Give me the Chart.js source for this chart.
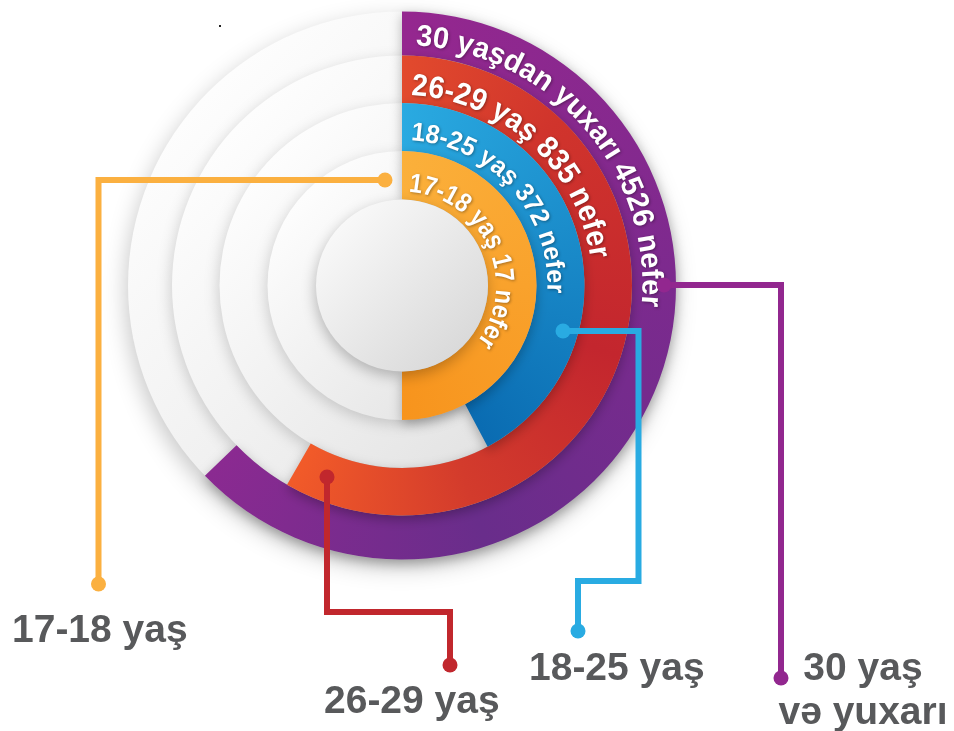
<!DOCTYPE html>
<html>
<head>
<meta charset="utf-8">
<script src="https://cdn.jsdelivr.net/npm/chart.js@4.4.1/dist/chart.umd.min.js"></script>
<style>
  html, body { margin: 0; padding: 0; background: #ffffff; }
  #wrap { position: relative; width: 954px; height: 731px; }
</style>
</head>
<body>
<div id="wrap"><canvas id="chart" width="954" height="731"></canvas></div>
<script>
// Age groups, outer ring first
const categories = ['30 yaş və yuxarı', '26-29 yaş', '18-25 yaş', '17-18 yaş'];
const ringPrefixes = ['30 yaşdan yuxarı', '26-29 yaş', '18-25 yaş', '17-18 yaş'];
const counts = [4526, 835, 372, 17];
const countUnit = 'nefer';
// Sweep of each coloured arc, degrees clockwise from 12 o'clock
const arcDegrees = [226, 210, 152, 180];
// Legend captions under the chart
const captionLines = [['30 yaş', 'və yuxarı'], ['26-29 yaş'], ['18-25 yaş'], ['17-18 yaş']];

// Styles
const ringColors = ['#92278f', '#c1272d', '#29abe2', '#fbb040'];
const ringStops = [
    [[0, '#95278f'], [0.25, '#7c2a8e'], [0.45, '#692d8b'], [0.63, '#8b2a91'], [1, '#8b2a91']],
    [[0, '#e24a2d'], [0.12, '#d0342c'], [0.3, '#c3262e'], [0.45, '#d33b2c'], [0.58, '#f15a29'], [1, '#f15a29']],
    [[0, '#2aaae1'], [0.42, '#0a6cb2'], [1, '#0a6cb2']],
    [[0, '#fbb03b'], [0.5, '#f7941d'], [1, '#f7941d']]
];
const ringWeights = [44, 47.5, 48, 48.5];
const textStyle = [
    { size: 30, base: 10.5, from: 3.2, to: 95 },
    { size: 31, base: 8, from: 2.7, to: 82 },
    { size: 26, base: 11, from: 3.4, to: 93 },
    { size: 27, base: 8, from: 4, to: 127 }
];
// leader line routes and caption anchors (page pixels)
const leaders = [
    { pts: [[664, 285], [781, 285], [781, 678]], caption: [863, 680], align: 'center', lineGap: 44 },
    { pts: [[327, 477], [327, 612], [450, 612], [450, 665]], caption: [324, 713], align: 'left' },
    { pts: [[563, 331], [638.5, 331], [638.5, 581], [578, 581], [578, 631]], caption: [529, 680], align: 'left' },
    { pts: [[385, 180], [98.5, 180], [98.5, 584]], caption: [12, 642], align: 'left' }
];
const FONT = '"Liberation Sans", Arial, sans-serif';

function center(chart) {
    const a = chart.chartArea;
    return { x: (a.left + a.right) / 2, y: (a.top + a.bottom) / 2 };
}

function diskGradient(ctx, x, y, r, light, dark) {
    const g = ctx.createLinearGradient(x - r * 0.7, y - r * 0.7, x + r * 0.7, y + r * 0.7);
    g.addColorStop(0, light);
    g.addColorStop(1, dark);
    return g;
}

function drawArcText(ctx, text, cx, cy, r, fromDeg, toDeg, size) {
    ctx.font = 'bold ' + size + 'px ' + FONT;
    const natural = ctx.measureText(text).width;
    const span = (toDeg - fromDeg) * Math.PI / 180 * r;
    const sx = span / natural;
    let angle = fromDeg * Math.PI / 180;
    ctx.textAlign = 'center';
    ctx.textBaseline = 'alphabetic';
    for (const ch of text) {
        const w = ctx.measureText(ch).width * sx;
        const mid = angle + (w / 2) / r;
        ctx.save();
        ctx.translate(cx, cy);
        ctx.rotate(mid);
        ctx.translate(0, -r);
        ctx.scale(sx, 1);
        ctx.fillText(ch, 0, 0);
        ctx.restore();
        angle += w / r;
    }
}

// Grey stepped disks behind the rings
const backdropPlugin = {
    id: 'backdrop',
    beforeDatasetsDraw(chart) {
        const ctx = chart.ctx;
        const c = center(chart);
        chart.data.datasets.forEach((ds, i) => {
            const meta = chart.getDatasetMeta(i);
            const r = meta.controller.outerRadius;
            ctx.save();
            ctx.shadowColor = i === 0 ? 'rgba(0,0,0,0.22)' : 'rgba(0,0,0,0.16)';
            ctx.shadowBlur = i === 0 ? 22 : 14;
            ctx.shadowOffsetX = -2;
            ctx.shadowOffsetY = i === 0 ? 8 : 4;
            ctx.beginPath();
            ctx.arc(c.x, c.y, r, 0, Math.PI * 2);
            ctx.fillStyle = diskGradient(ctx, c.x, c.y, r, '#fdfdfd', '#e3e3e3');
            ctx.fill();
            ctx.restore();
        });
    },
    beforeDatasetDraw(chart) {
        const ctx = chart.ctx;
        ctx.save();
        ctx.shadowColor = 'rgba(0,0,0,0.28)';
        ctx.shadowBlur = 12;
        ctx.shadowOffsetX = 0;
        ctx.shadowOffsetY = 4;
    },
    afterDatasetDraw(chart) {
        chart.ctx.restore();
    },
    afterDatasetsDraw(chart) {
        const ctx = chart.ctx;
        const c = center(chart);
        const n = chart.data.datasets.length;
        const inner = chart.getDatasetMeta(n - 1).controller.innerRadius;

        // centre disk
        ctx.save();
        ctx.shadowColor = 'rgba(0,0,0,0.25)';
        ctx.shadowBlur = 14;
        ctx.shadowOffsetX = -1;
        ctx.shadowOffsetY = 5;
        ctx.beginPath();
        ctx.arc(c.x, c.y, inner, 0, Math.PI * 2);
        ctx.fillStyle = diskGradient(ctx, c.x, c.y, inner, '#f8f8f8', '#dadada');
        ctx.fill();
        ctx.restore();

        // curved texts
        ctx.save();
        ctx.fillStyle = '#ffffff';
        ctx.shadowColor = 'rgba(0,0,0,0.35)';
        ctx.shadowBlur = 3;
        ctx.shadowOffsetX = 1;
        ctx.shadowOffsetY = 1;
        chart.data.datasets.forEach((ds, i) => {
            const meta = chart.getDatasetMeta(i);
            const t = textStyle[i];
            const label = ringPrefixes[i] + ' ' + counts[i] + ' ' + countUnit;
            drawArcText(ctx, label, c.x, c.y, meta.controller.innerRadius + t.base, t.from, t.to, t.size);
        });
        ctx.restore();

        // leader lines, dots and captions
        leaders.forEach((l, i) => {
            ctx.save();
            ctx.strokeStyle = ringColors[i];
            ctx.fillStyle = ringColors[i];
            ctx.lineWidth = 6;
            ctx.lineJoin = 'miter';
            ctx.beginPath();
            l.pts.forEach((p, k) => (k ? ctx.lineTo(p[0], p[1]) : ctx.moveTo(p[0], p[1])));
            ctx.stroke();
            [l.pts[0], l.pts[l.pts.length - 1]].forEach(p => {
                ctx.beginPath();
                ctx.arc(p[0], p[1], 7.5, 0, Math.PI * 2);
                ctx.fill();
            });
            ctx.fillStyle = '#58595b';
            ctx.font = 'bold 39px ' + FONT;
            ctx.textAlign = l.align;
            ctx.textBaseline = 'alphabetic';
            captionLines[i].forEach((line, k) => {
                ctx.fillText(line, l.caption[0], l.caption[1] + k * (l.lineGap || 0));
            });
            ctx.restore();
        });

        // stray speck in the source image
        ctx.fillStyle = '#222';
        ctx.fillRect(219, 25, 2, 2);
    }
};

const datasets = categories.map((name, i) => ({
    label: name,
    data: [arcDegrees[i], 360 - arcDegrees[i]],
    weight: ringWeights[i],
    order: categories.length - i,
    borderWidth: 0,
    backgroundColor: (context) => {
        if (context.dataIndex === 1) return 'rgba(0,0,0,0)';
        const chart = context.chart;
        if (!chart.chartArea) return ringColors[i];
        const c = center(chart);
        const g = chart.ctx.createConicGradient(-Math.PI / 2, c.x, c.y);
        ringStops[i].forEach(s => g.addColorStop(s[0], s[1]));
        return g;
    }
}));

new Chart(document.getElementById('chart'), {
    type: 'doughnut',
    data: { labels: ['value', 'rest'], datasets: datasets },
    options: {
        responsive: false,
        animation: false,
        events: [],
        cutout: 86,
        layout: { padding: { left: 128, top: 11.5, right: 278, bottom: 171.5 } },
        plugins: { legend: { display: false }, tooltip: { enabled: false } }
    },
    plugins: [backdropPlugin]
});
</script>
</body>
</html>
